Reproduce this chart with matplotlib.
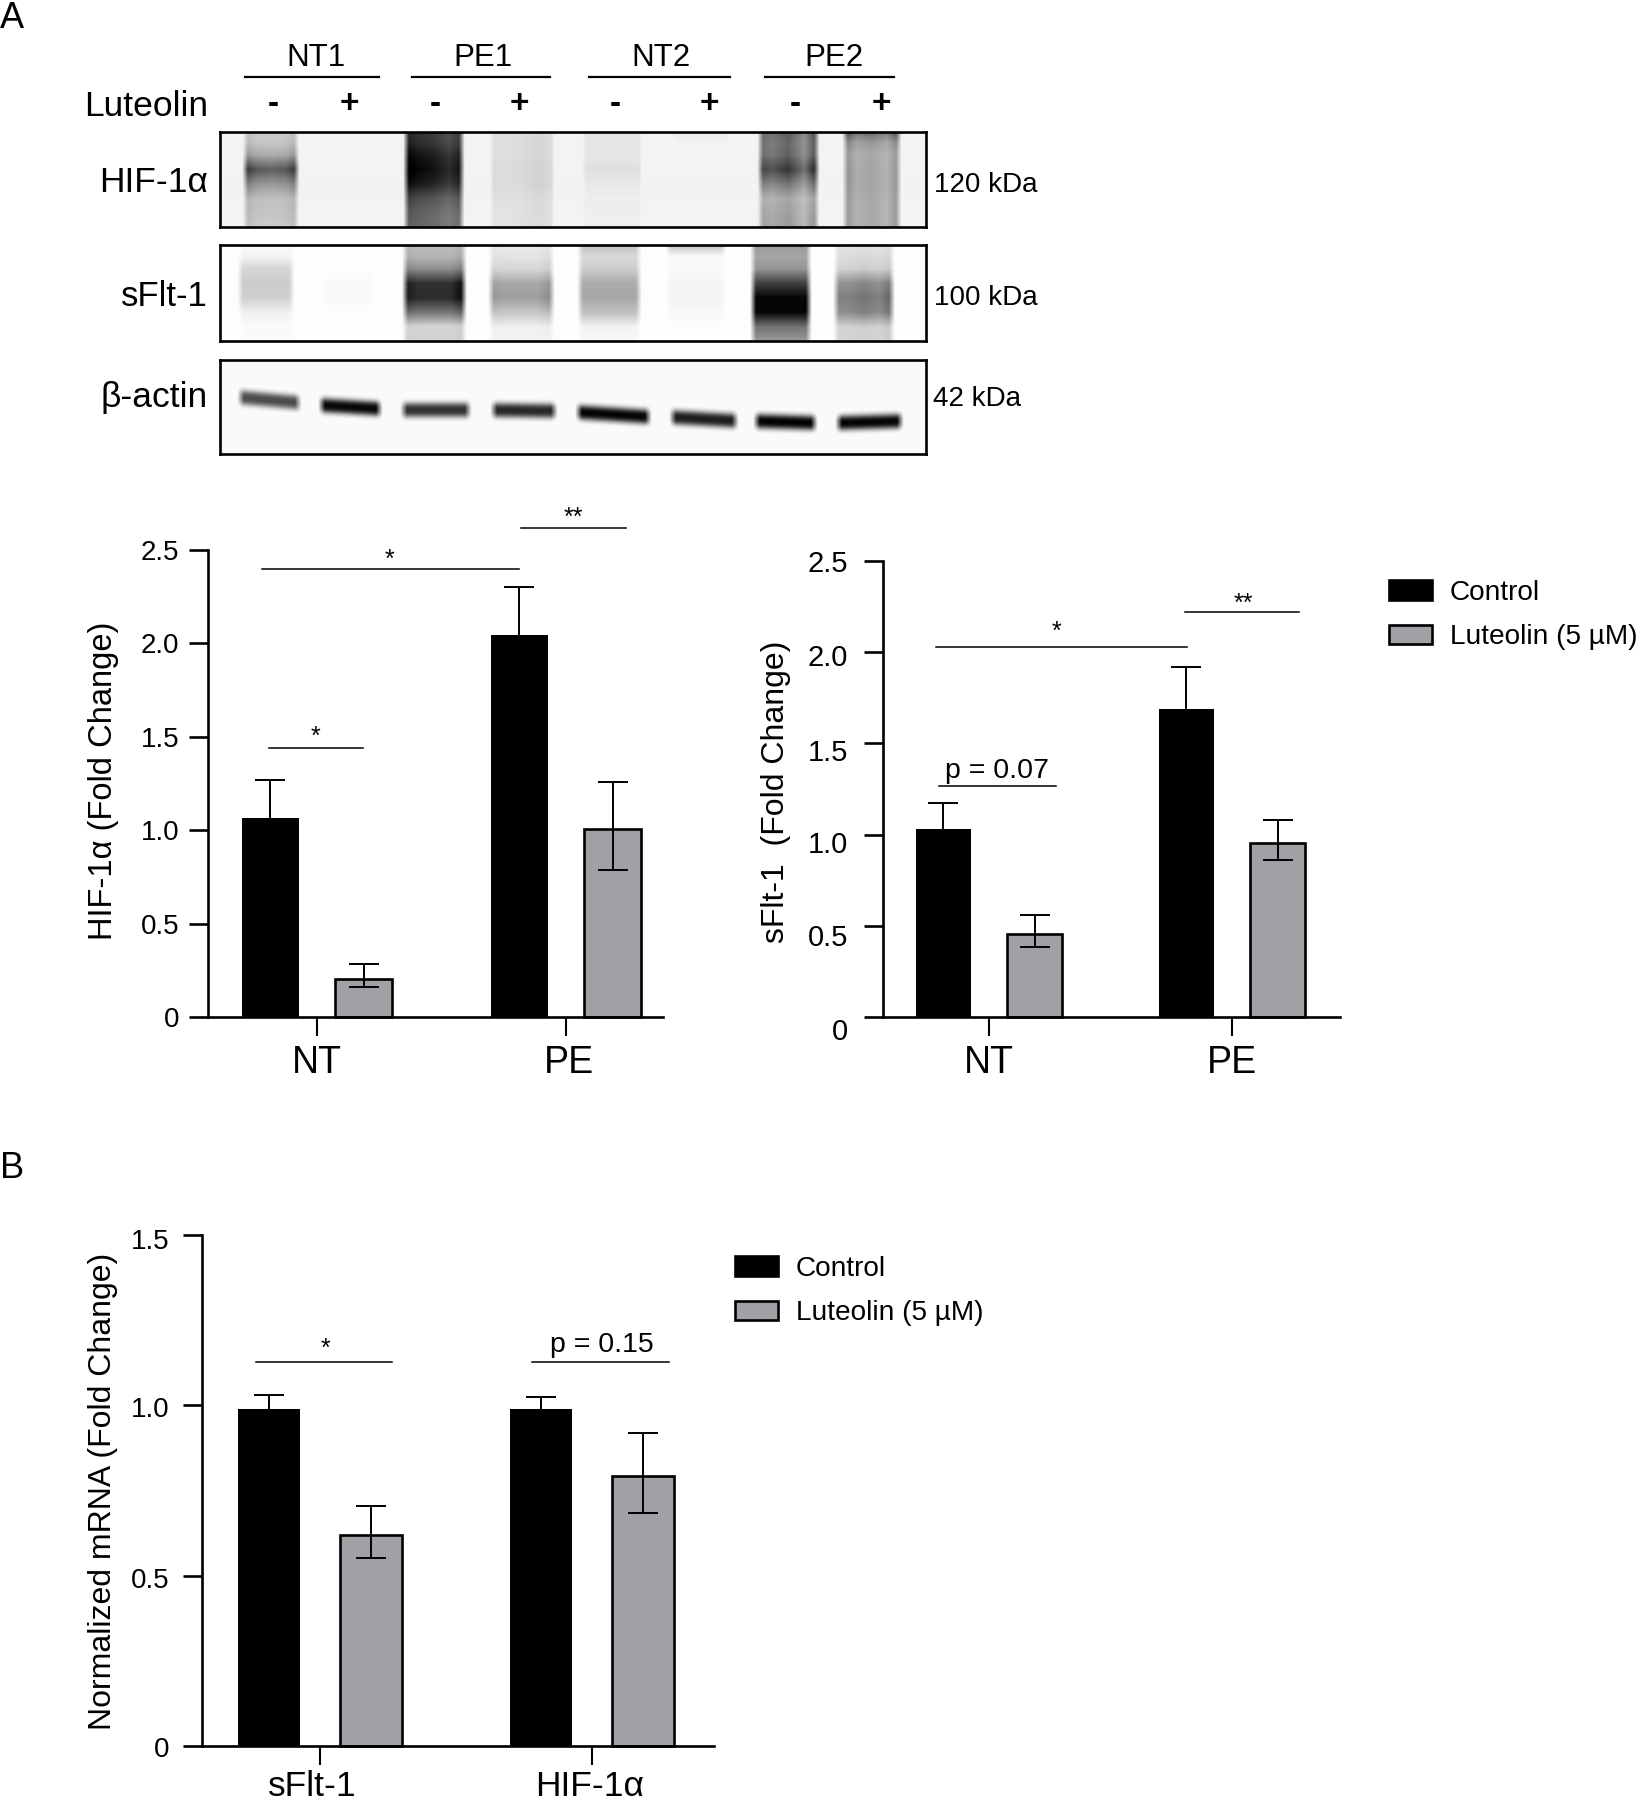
import numpy as np
import matplotlib
matplotlib.use('Agg')
import matplotlib.pyplot as plt
from matplotlib.patches import Patch
from matplotlib.transforms import ScaledTranslation

plt.rcParams['font.family'] = ['Liberation Sans', 'DejaVu Sans']

W, H = 1640, 1800
BLACK = '#000000'
GREY = '#A0A1A4'

# bar charts
hif_groups = ['NT', 'PE']
hif_ctrl = [1.067, 2.043]
hif_ctrl_top = [1.27, 2.30]
hif_lut = [0.205, 1.005]
hif_lut_top = [0.283, 1.26]
hif_lut_low = [0.16, 0.786]
hif_ticks = [0, 0.5, 1.0, 1.5, 2.0, 2.5]

sflt_groups = ['NT', 'PE']
sflt_ctrl = [1.032, 1.69]
sflt_ctrl_top = [1.173, 1.919]
sflt_lut = [0.454, 0.955]
sflt_lut_top = [0.56, 1.08]
sflt_lut_low = [0.382, 0.861]

mrna_groups = ['sFlt-1', 'HIF-1α']
mrna_ctrl = [0.988, 0.99]
mrna_ctrl_top = [1.031, 1.025]
mrna_lut = [0.618, 0.793]
mrna_lut_top = [0.704, 0.92]
mrna_lut_low = [0.552, 0.684]
mrna_ticks = [0, 0.5, 1.0, 1.5]

# blots: darkness of each lane, top to bottom of the membrane
blot_rows = [0, .12, .25, .4, .55, .7, .85, 1]
lane_across = [0, .25, .5, .75, 1]
hif_lanes = [(242, 300), (325, 385), (403, 465), (488, 557),
             (580, 645), (670, 733), (757, 820), (842, 902)]
hif_dark = [[.25, .27, .40, .78, .50, .30, .28, .25],
            [.03, .03, .03, .03, .03, .03, .03, .03],
            [.80, .82, .92, .98, .90, .70, .62, .60],
            [.13, .14, .14, .15, .15, .13, .12, .12],
            [.10, .10, .10, .12, .09, .07, .07, .06],
            [.08, .05, .04, .04, .04, .04, .03, .03],
            [.65, .60, .62, .80, .55, .35, .38, .40],
            [.68, .45, .38, .40, .40, .38, .38, .38]]
hif_streak = [[1.1, .85, .8, .85, 1.1],
              [1, 1, 1, 1, 1],
              [1.1, 1, .95, .85, 1],
              [1, .9, 1, 1.2, .9],
              [1, 1, 1, 1, 1],
              [1, 1, 1, 1, 1],
              [.95, .85, 1, .7, 1.25],
              [1.2, .8, .9, .75, 1.2]]
flt_lanes = [(237, 295), (322, 375), (402, 467), (488, 555),
             (577, 642), (665, 727), (750, 812), (833, 895)]
flt_dark = [[.02, .05, .17, .20, .19, .06, .02, .02],
            [.00, .00, .01, .03, .03, .01, .00, .00],
            [.30, .32, .50, .90, .92, .60, .18, .20],
            [.10, .12, .18, .38, .42, .25, .07, .05],
            [.25, .15, .20, .33, .35, .25, .05, .03],
            [.25, .02, .03, .04, .05, .03, .01, .01],
            [.40, .35, .42, .75, .98, .98, .55, .40],
            [.12, .15, .20, .48, .55, .50, .20, .18]]
flt_streak = [[1, 1, 1, 1, 1],
              [1, 1, 1, 1, 1],
              [1, .9, .9, .9, 1.1],
              [1, .9, .9, .9, 1.2],
              [1, 1, 1, 1, 1],
              [1, 1, 1, 1, 1],
              [1, 1, 1, 1, 1],
              [.9, .9, 1, .9, 1.2]]
actin_lanes = [(237, 302), (318, 383), (400, 472), (490, 558),
               (575, 652), (669, 739), (753, 818), (835, 904)]
actin_left = [397, 405, 410, 410, 412, 417, 421, 423]
actin_right = [403, 409, 410, 411, 417, 421, 423, 421]
actin_dark = [.70, .97, .80, .84, .98, .88, .99, .98]

fig = plt.figure(figsize=(W / 100, H / 100), dpi=100)


def px_axes(x0, y0, x1, y1):
    return fig.add_axes([x0 / W, 1 - y1 / H, (x1 - x0) / W, (y1 - y0) / H])


overlay = px_axes(0, 0, W, H)
overlay.set_xlim(0, W)
overlay.set_ylim(H, 0)
overlay.axis('off')
overlay.set_zorder(10)


def frame(ax):
    ax.set_xticks([])
    ax.set_yticks([])
    for s in ax.spines.values():
        s.set_linewidth(1.9)


def soft(xx, x0, x1, edge):
    return np.clip((xx - x0) / edge, 0, 1) * np.clip((x1 - xx) / edge, 0, 1)


def draw_blot(x0, y0, x1, y1, lanes, dark, streak, bg):
    xx, yy = np.meshgrid(np.arange(x0, x1) + .5, np.arange(y0, y1) + .5)
    img = np.full(xx.shape, bg)
    frac = (yy - y0) / (y1 - y0)
    for (a, b), d, st in zip(lanes, dark, streak):
        across = np.interp((xx - a) / (b - a), lane_across, st)
        lane = np.interp(frac, blot_rows, d) * across * soft(xx, a, b, 6)
        img = np.maximum(img, np.clip(lane, 0, 1))
    ax = px_axes(x0, y0, x1, y1)
    ax.imshow(img, cmap='gray_r', vmin=0, vmax=1, aspect='auto', interpolation='bilinear')
    frame(ax)


def draw_actin(x0, y0, x1, y1):
    xx, yy = np.meshgrid(np.arange(x0, x1) + .5, np.arange(y0, y1) + .5)
    img = np.full(xx.shape, .02)
    for (a, b), l, r, d in zip(actin_lanes, actin_left, actin_right, actin_dark):
        centre = l + (r - l) * (xx - a) / (b - a)
        band = d * np.exp(-np.abs((yy - centre) / 7.5) ** 2.6) * soft(xx, a, b, 7)
        img = np.maximum(img, band)
    ax = px_axes(x0, y0, x1, y1)
    ax.imshow(img, cmap='gray_r', vmin=0, vmax=1, aspect='auto', interpolation='bilinear')
    frame(ax)


draw_blot(220, 132, 926, 227, hif_lanes, hif_dark, hif_streak, .05)
draw_blot(220, 245, 926, 341, flt_lanes, flt_dark, flt_streak, .01)
draw_actin(220, 360, 926, 454)


def shift_label(lab, dx, dy):
    lab.set_transform(lab.get_transform() + ScaledTranslation(dx / 100, -dy / 100, fig.dpi_scale_trans))


def bars(rect, ticks_px, groups, ctrl, ctrl_top, lut, lut_top, lut_low, yticks, ylabel, label_at,
         ysize, tick_size, xsize, pad, xpad, y_shift=None, x_shift=None):
    x0, y0, x1, y1 = rect
    ax = px_axes(x0, y0, x1, y1)
    unit = ticks_px[1] - ticks_px[0]
    ax.set_xlim((x0 - ticks_px[0]) / unit, (x1 - ticks_px[0]) / unit)
    ax.set_ylim(0, yticks[-1])
    pos = np.arange(len(groups))
    off, wid = 0.1875, 0.2275
    ctrl_err = np.array(ctrl_top) - np.array(ctrl)
    lut_err = [np.array(lut) - np.array(lut_low), np.array(lut_top) - np.array(lut)]
    ax.bar(pos - off, ctrl, wid, color=BLACK, clip_on=False, zorder=2)
    ax.bar(pos + off, lut, wid, color=GREY, edgecolor=BLACK, linewidth=1.9, clip_on=False, zorder=2)
    ax.errorbar(pos - off, ctrl, yerr=ctrl_err, fmt='none', ecolor=BLACK,
                elinewidth=1.4, capsize=11, capthick=1.4, zorder=3)
    ax.errorbar(pos + off, lut, yerr=lut_err, fmt='none', ecolor=BLACK,
                elinewidth=1.4, capsize=11, capthick=1.4, zorder=3)
    for s in ('top', 'right'):
        ax.spines[s].set_visible(False)
    for s in ('left', 'bottom'):
        ax.spines[s].set_linewidth(1.9)
    ax.set_xticks(pos, groups, fontsize=xsize)
    ax.set_yticks(yticks, [('%g' % t if t == 0 else '%.1f' % t) for t in yticks], fontsize=tick_size)
    ax.tick_params(axis='y', length=13.5, width=1.9, pad=pad)
    ax.tick_params(axis='x', length=14, width=1.5, pad=xpad)
    ax.set_ylabel(ylabel, fontsize=ysize, va='center')
    ax.yaxis.set_label_coords(label_at[0], label_at[1], transform=overlay.transData)
    if y_shift:
        for lab, d in zip(ax.get_yticklabels(), y_shift):
            shift_label(lab, 0, d)
    if x_shift:
        for lab, d in zip(ax.get_xticklabels(), x_shift):
            shift_label(lab, d, 0)
    return ax


bars((208, 550, 663, 1017), (317, 566), hif_groups, hif_ctrl, hif_ctrl_top, hif_lut, hif_lut_top, hif_lut_low,
     hif_ticks, 'HIF-1α (Fold Change)', (104, 781), 23.5, 20, 27, 7, 6, x_shift=[0, 3])
bars((883, 561, 1340, 1017), (989, 1232), sflt_groups, sflt_ctrl, sflt_ctrl_top, sflt_lut, sflt_lut_top, sflt_lut_low,
     hif_ticks, 'sFlt-1  (Fold Change)', (776, 792), 23, 21, 27, 11.5, 6, y_shift=[12, 9, 7, 7, 3, 0])
bars((202, 1235, 714, 1746), (320, 592), mrna_groups, mrna_ctrl, mrna_ctrl_top, mrna_lut, mrna_lut_top, mrna_lut_low,
     mrna_ticks, 'Normalized mRNA (Fold Change)', (103, 1491), 23, 20, 25.5, 10, 3.5,
     y_shift=[1, 2, 2, 4], x_shift=[-8, -2])

# blot header
overlay.text(0, 18, 'A', fontsize=26, va='center', ha='left')
overlay.text(0, 1169, 'B', fontsize=26, va='center', ha='left')
for name, cx, a, b in [('NT1', 316, 245, 379), ('PE1', 483, 412, 550), ('NT2', 661, 589, 730), ('PE2', 834, 765, 894)]:
    overlay.text(cx, 58, name, fontsize=22.5, ha='center', va='center')
    overlay.plot([a, b], [77, 77], color='k', lw=1.6)
for x in [273, 435, 615, 795]:
    overlay.text(x, 105, '-', fontsize=24, fontweight='bold', ha='center', va='center')
for x in [349, 519, 709, 881]:
    overlay.text(x, 104, '+', fontsize=24, fontweight='bold', ha='center', va='center')
overlay.text(208, 107, 'Luteolin', fontsize=25.5, ha='right', va='center')
overlay.text(208, 182, 'HIF-1α', fontsize=25.5, ha='right', va='center')
overlay.text(208, 297, 'sFlt-1', fontsize=25, ha='right', va='center')
overlay.text(208, 398, 'β-actin', fontsize=25.5, ha='right', va='center')
overlay.text(934, 185, '120 kDa', fontsize=20, ha='left', va='center')
overlay.text(934, 298, '100 kDa', fontsize=20, ha='left', va='center')
overlay.text(933, 399, '42 kDa', fontsize=20, ha='left', va='center')

# significance marks
for a, b, y in [(262, 519, 569), (521, 626, 528), (269, 363, 748),
                (936, 1187, 647), (1185, 1299, 612), (939, 1056, 786),
                (256, 392, 1362), (532, 669, 1362)]:
    overlay.plot([a, b], [y, y], color='k', lw=1.1)
for txt, x, y in [('*', 389, 560), ('**', 573, 518), ('*', 315, 737),
                  ('*', 1056, 632), ('**', 1243, 604), ('*', 325, 1349)]:
    overlay.text(x, y, txt, fontsize=18, ha='center', va='center')
overlay.text(997, 771, 'p = 0.07', fontsize=20.5, ha='center', va='center')
overlay.text(602, 1345, 'p = 0.15', fontsize=20.5, ha='center', va='center')

# legends
handles = [Patch(facecolor=BLACK, edgecolor=BLACK, linewidth=1.9, label='Control'),
           Patch(facecolor=GREY, edgecolor=BLACK, linewidth=1.9, label='Luteolin (5 µM)')]
for lx, ly in [(1389, 580), (735, 1256)]:
    fig.legend(handles=handles, loc='upper left', bbox_to_anchor=(lx / W, 1 - ly / H), frameon=False,
               fontsize=20.2, borderpad=0, borderaxespad=0, handlelength=1.55, handleheight=.7,
               handletextpad=.62, labelspacing=.65)

fig.savefig('out.png', dpi=100)
